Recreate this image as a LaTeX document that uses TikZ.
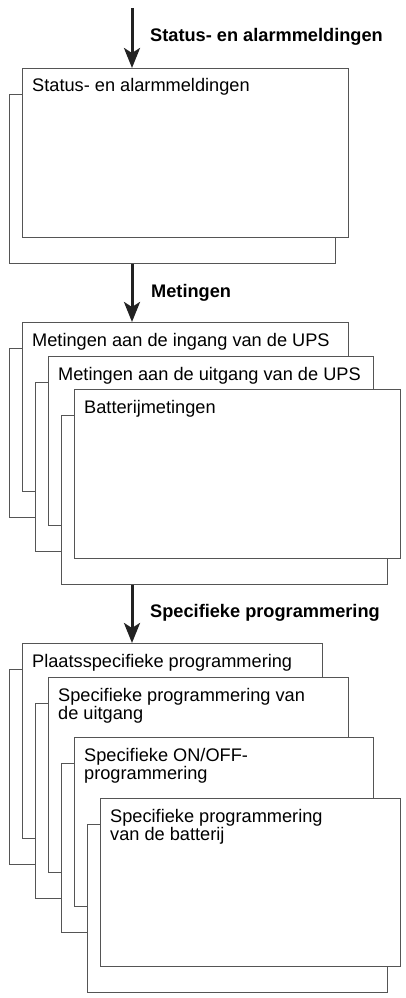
\documentclass[tikz,border=0pt]{standalone}
\usepackage{fontspec}
\setmainfont{Liberation Sans}
\usetikzlibrary{arrows.meta}
\definecolor{boxgray}{HTML}{555555}
\definecolor{arrowblack}{HTML}{222222}
\tikzstyle{card}=[draw=boxgray, fill=white, line width=1.2pt, anchor=north west, inner sep=0]
\tikzstyle{card text}=[anchor=base west, align=left, inner sep=0, font=\fontsize{18.2}{18.3}\selectfont]
\tikzstyle{flow}=[arrowblack, line width=3pt, -{Stealth[length=20pt, width=16pt, inset=5pt]}]
\tikzstyle{flow label}=[anchor=base west, inner sep=0, font=\fontsize{18.2}{18.3}\selectfont\bfseries]

\begin{document}
\begin{tikzpicture}[x=1pt, y=-1pt]
    \useasboundingbox (0, 0) rectangle (406, 998);

    % status
    \node[card, minimum width=326pt, minimum height=169pt] (s1_back) at (9, 94) {};
    \node[card, minimum width=326pt, minimum height=169pt] (s1) at (22, 68) {};
    \node[card text] (s1_text) at ([xshift=10pt, yshift=-24pt]s1.north west) {Status- en alarmmeldingen};

    % metingen
    \node[card, minimum width=326pt, minimum height=169pt] (m1_back) at (9, 348) {};
    \node[card, minimum width=326pt, minimum height=169pt] (m1) at (22, 322) {};
    \node[card text] (m1_text) at ([xshift=10pt, yshift=-24pt]m1.north west) {Metingen aan de ingang van de UPS};
    \node[card, minimum width=325pt, minimum height=169pt] (m2_back) at (35, 382) {};
    \node[card, minimum width=325pt, minimum height=169pt] (m2) at (48, 356) {};
    \node[card text] (m2_text) at ([xshift=10pt, yshift=-24pt]m2.north west) {Metingen aan de uitgang van de UPS};
    \node[card, minimum width=326pt, minimum height=169pt] (m3_back) at (61, 415) {};
    \node[card, minimum width=326pt, minimum height=169pt] (m3) at (74, 389) {};
    \node[card text] (m3_text) at ([xshift=10pt, yshift=-24pt]m3.north west) {Batterijmetingen};

    % programmering (two-line texts sit on their last baseline)
    \node[card, minimum width=300pt, minimum height=195pt] (p1_back) at (9, 669) {};
    \node[card, minimum width=300pt, minimum height=195pt] (p1) at (22, 643) {};
    \node[card text] (p1_text) at ([xshift=10pt, yshift=-24pt]p1.north west) {Plaatsspecifieke programmering};
    \node[card, minimum width=300pt, minimum height=195pt] (p2_back) at (35, 703) {};
    \node[card, minimum width=300pt, minimum height=195pt] (p2) at (48, 677) {};
    \node[card text] (p2_text) at ([xshift=10pt, yshift=-42.3pt]p2.north west) {Specifieke programmering van\\de uitgang};
    \node[card, minimum width=299pt, minimum height=169pt] (p3_back) at (61, 763) {};
    \node[card, minimum width=299pt, minimum height=169pt] (p3) at (74, 737) {};
    \node[card text] (p3_text) at ([xshift=10pt, yshift=-42.3pt]p3.north west) {Specifieke ON/OFF-\\programmering};
    \node[card, minimum width=300pt, minimum height=168pt] (p4_back) at (87, 824) {};
    \node[card, minimum width=300pt, minimum height=168pt] (p4) at (100, 798) {};
    \node[card text] (p4_text) at ([xshift=10pt, yshift=-42.3pt]p4.north west) {Specifieke programmering\\van de batterij};

    % arrows
    \coordinate (in) at (132, 8);
    \draw[flow] (in) to (in |- s1.north);
    \draw[flow] (in |- s1_back.south) to (in |- m1.north);
    \draw[flow] (in |- m3_back.south) to (in |- p1.north);

    \node[flow label] (in_label) at (150, 42) {Status- en alarmmeldingen};
    \node[flow label] (m_label) at (151, 297) {Metingen};
    \node[flow label] (p_label) at (150, 617) {Specifieke programmering};
  \end{tikzpicture}
\end{document}
